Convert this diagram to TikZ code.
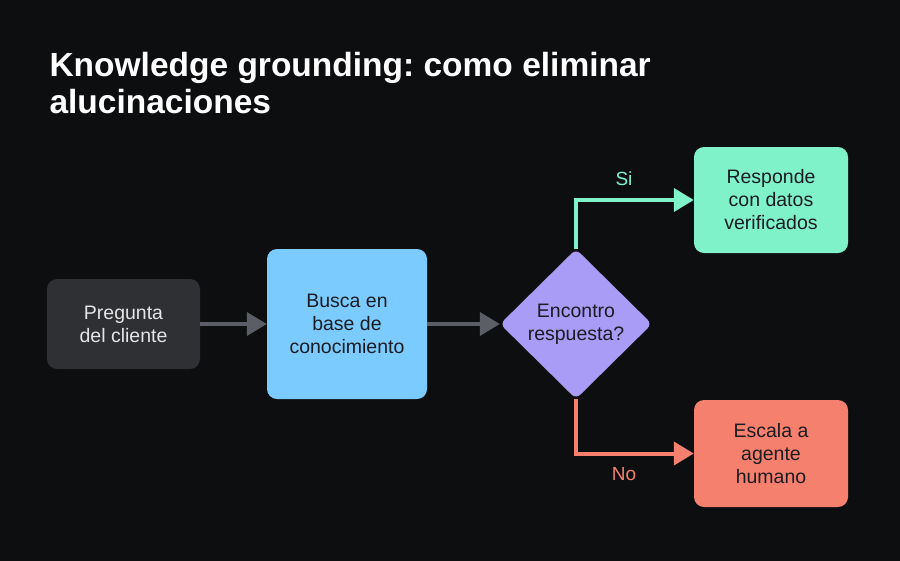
\documentclass[tikz,border=0pt]{standalone}
\usepackage{fontspec}
\setmainfont{Liberation Sans}
\usetikzlibrary{arrows.meta,shapes.geometric,positioning}
\frenchspacing

\definecolor{bgdark}{HTML}{0D0E10}
\definecolor{boxgray}{HTML}{2F3034}
\definecolor{boxblue}{HTML}{7CCBFF}
\definecolor{boxpurple}{HTML}{A99CF6}
\definecolor{boxgreen}{HTML}{80F2CA}
\definecolor{boxred}{HTML}{F6806E}
\definecolor{linegray}{HTML}{5B5E64}
\definecolor{txtdark}{HTML}{1A1C22}

\tikzset{
  box/.style={rectangle, rounded corners=10pt, minimum width=#1, align=center,
    font=\fontsize{19.5}{23}\selectfont, text=txtdark, inner sep=0pt},
  decision/.style={diamond, fill=boxpurple, minimum width=152pt, minimum height=150pt,
    rounded corners=6pt, align=center, inner sep=0pt, text=txtdark,
    font=\fontsize{19.5}{23}\selectfont},
  flow/.style={line width=4pt, -{Triangle[length=20pt,width=23pt]}},
  branch/.style={font=\fontsize{19}{23}\selectfont}
}

\begin{document}
\begin{tikzpicture}[x=1pt,y=-1pt]
  \useasboundingbox (0,0) rectangle (900,560);
  \fill[bgdark] (-5,-5) rectangle (905,565);

  % title
  \node[anchor=base west, align=left, text=white, font=\fontsize{33.5}{37}\bfseries\selectfont]
    (title) at (46,113) {Knowledge grounding: como eliminar\\alucinaciones};

  % boxes
  \node[box=153pt, minimum height=90pt, fill=boxgray, text=white!90!black] (pregunta) at (123.5,324) {Pregunta\\del cliente};
  \node[box=160pt, minimum height=150pt, fill=boxblue] (busca) at (347,324) {Busca en\\base de\\conocimiento};
  \node[decision] (encontro) at (576,324) {Encontro\\respuesta?};
  \node[box=154pt, minimum height=106pt, fill=boxgreen] (responde) at (771,200) {Responde\\con datos\\verificados};
  \node[box=154pt, minimum height=107pt, fill=boxred] (escala) at (771,453.5) {Escala a\\agente\\humano};

  \coordinate (siturn) at (576,200);
  \coordinate (noturn) at (576,453.5);

  % connectors
  \draw[flow, linegray] (pregunta) -- (busca);
  \draw[flow, linegray] (busca) -- (encontro);
  \draw[flow, boxgreen] (encontro.north) -- (siturn) -- (responde.west);
  \draw[flow, boxred] (encontro.south) -- (noturn) -- (escala.west);

  \node[branch, text=boxgreen] (silabel) at (624,179) {Si};
  \node[branch, text=boxred] (nolabel) at (624,474) {No};
\end{tikzpicture}
\end{document}
